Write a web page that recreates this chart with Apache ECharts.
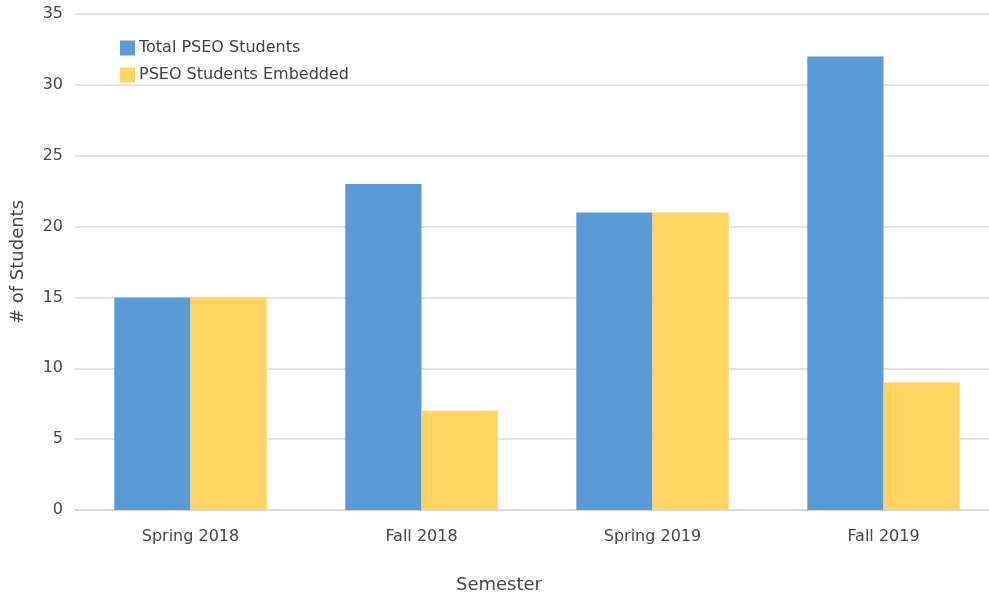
<!DOCTYPE html>
<html>
<head>
<meta charset="utf-8">
<style>
  html, body { margin: 0; padding: 0; background: #ffffff; }
  #chart { width: 989px; height: 599px; }
</style>
<script src="https://cdn.jsdelivr.net/npm/echarts@6/dist/echarts.min.js"></script>
</head>
<body>
<div id="chart"></div>
<script>
const semesters = ['Spring 2018', 'Fall 2018', 'Spring 2019', 'Fall 2019'];
const totalStudents = [15, 23, 21, 32];
const embeddedStudents = [15, 7, 21, 9];
const seriesNames = ['Total PSEO Students', 'PSEO Students Embedded'];

const textColor = '#474747';
const fontFamily = '"DejaVu Sans", "Liberation Sans", sans-serif';

const chart = echarts.init(document.getElementById('chart'), null, { renderer: 'canvas' });

chart.setOption({
  animation: false,
  backgroundColor: '#ffffff',
  textStyle: { fontFamily: fontFamily, color: textColor },
  grid: {
    left: 75, right: -10, top: 14, bottom: 89,
    containLabel: false,
    outerBoundsMode: 'none'
  },
  legend: {
    orient: 'vertical',
    left: 115,
    top: 35,
    itemWidth: 15,
    itemHeight: 15,
    itemGap: 11,
    icon: 'rect',
    textStyle: { fontFamily: fontFamily, fontSize: 16, color: '#404040', padding: [0, 0, 0, -1] },
    data: seriesNames
  },
  xAxis: {
    type: 'category',
    data: semesters,
    name: 'Semester',
    nameLocation: 'middle',
    nameGap: 66,
    // centre the title under the visible part of the axis
    nameTextStyle: { fontSize: 18, color: textColor, fontFamily: fontFamily, padding: [0, 76, 0, 0] },
    axisLine: { show: true, lineStyle: { color: '#d9d9d9', width: 2 } },
    axisTick: { show: false },
    axisLabel: { fontSize: 16, color: textColor, margin: 19, fontFamily: fontFamily }
  },
  yAxis: {
    type: 'value',
    min: 0,
    max: 35,
    interval: 5,
    name: '# of Students',
    nameLocation: 'middle',
    nameGap: 48,
    nameRotate: 90,
    nameTextStyle: { fontSize: 18, color: textColor, fontFamily: fontFamily },
    axisLine: { show: false },
    axisTick: { show: false },
    axisLabel: { fontSize: 16, color: textColor, margin: 12, fontFamily: fontFamily },
    splitLine: { lineStyle: { color: '#e3e3e3', width: 2 } }
  },
  series: [
    {
      name: seriesNames[0],
      type: 'bar',
      data: totalStudents,
      barGap: '0%',
      barCategoryGap: '34%',
      itemStyle: { color: '#5b9bd5' }
    },
    {
      name: seriesNames[1],
      type: 'bar',
      data: embeddedStudents,
      barGap: '0%',
      barCategoryGap: '34%',
      itemStyle: { color: '#ffd462' }
    }
  ]
});
</script>
</body>
</html>
